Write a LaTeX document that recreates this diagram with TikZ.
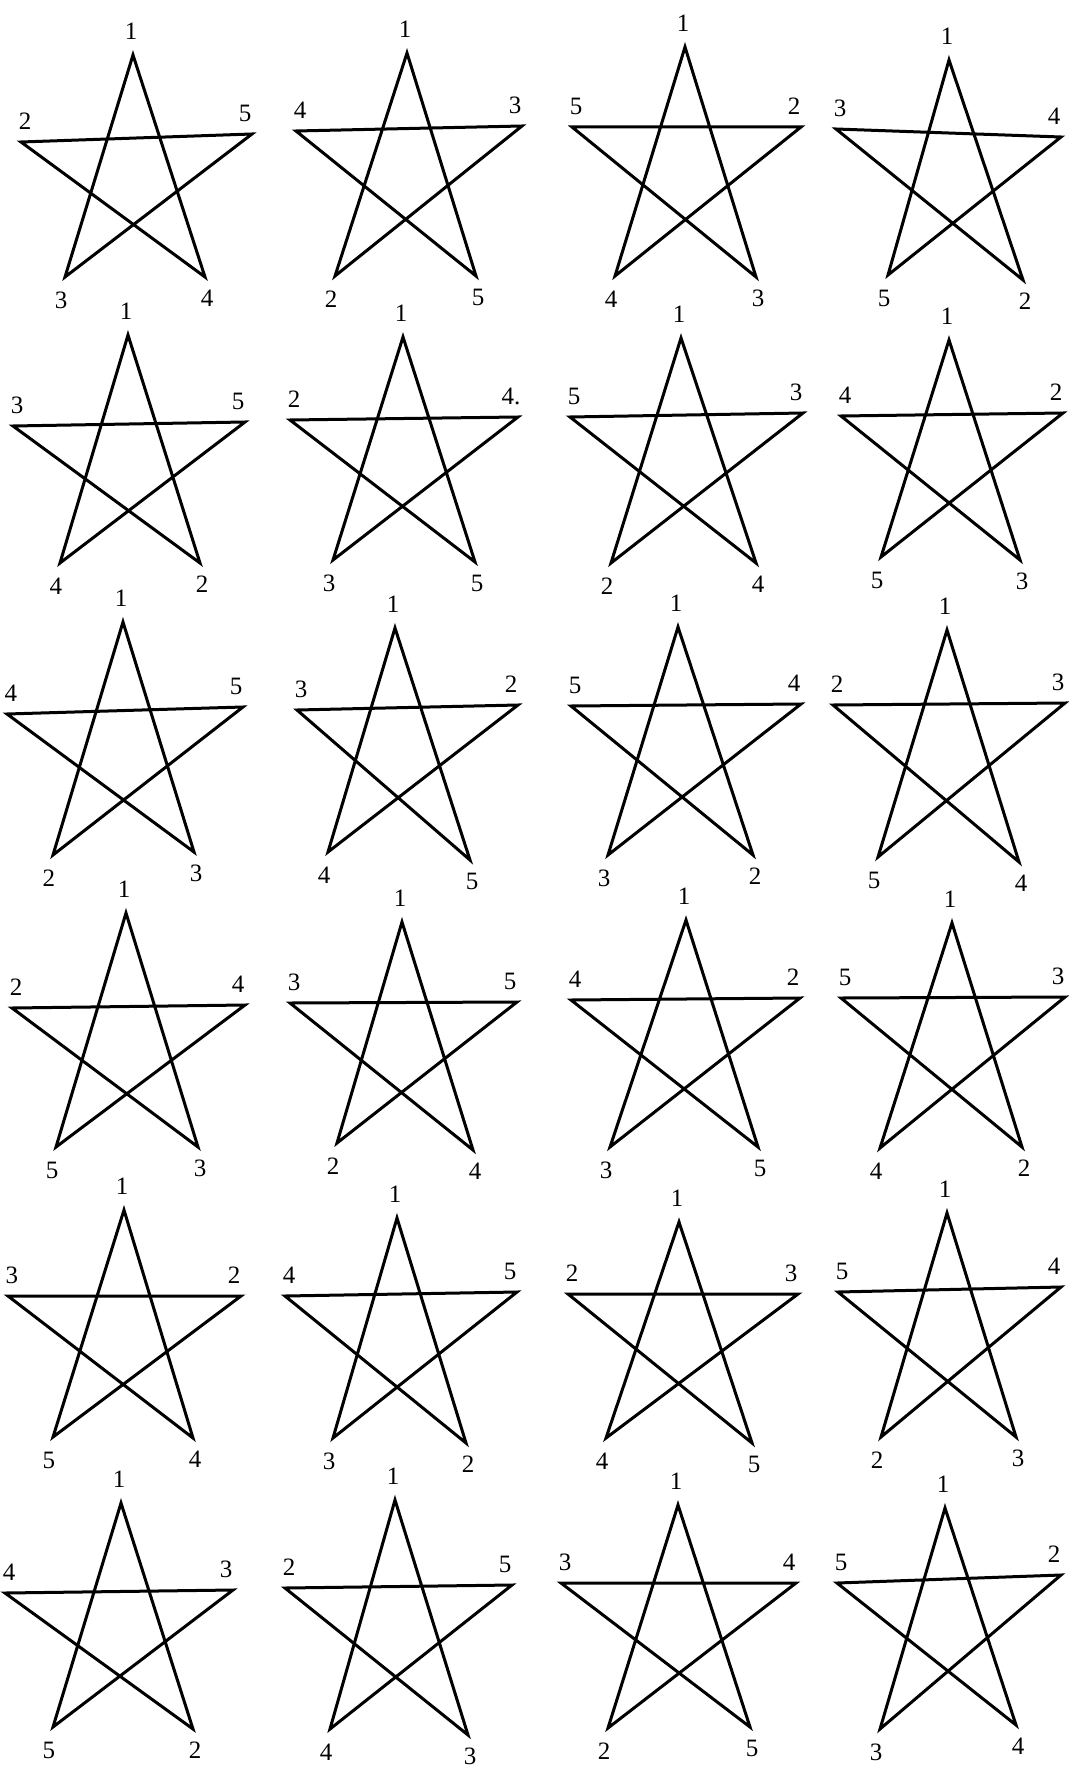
\documentclass[tikz,border=0pt]{standalone}
\usepackage{fontspec}
\setmainfont{Liberation Serif}

\begin{document}
\begin{tikzpicture}[x=0.5pt, y=-0.5pt, line width=1.5pt,
        every node/.style={inner sep=0pt, font=\fontsize{12.5}{14}\selectfont},
        toplab/.style={xshift=-1pt, yshift=12pt},
        leftlab/.style={xshift=2pt, yshift=10.5pt},
        rightlab/.style={xshift=-3.5pt, yshift=10.5pt},
        botleftlab/.style={xshift=-2pt, yshift=-11.5pt},
        botrightlab/.style={xshift=1pt, yshift=-10.5pt}]
                \useasboundingbox (0,0) rectangle (1086,1771);

                % Stars: top, left, right, bottom left, bottom right, then labels
                \foreach \n/\ax/\ay/\bx/\by/\cx/\cy/\dx/\dy/\ex/\ey/\nl/\nr/\nbl/\nbr in {
                    1/133/55/21/142/252/134/65/277/205/277/2/5/3/4,
                    2/407/53/296/131/522/126/335/276/476/276/4/3/2/5,
                    3/685/47/572/127/801/127/615/276/756/277/5/2/4/3,
                    4/949/60/836/129/1061/137/888/275/1023/280/3/4/5/2,
                    5/128/335/13/426/245/422/60/563/200/563/3/5/4/2,
                    6/403/337/290/420/518/417/333/560/475/562/2/4./3/5,
                    7/681/338/570/417/803/413/611/563/756/563/5/3/2/4,
                    8/949/340/841/416/1063/413/881/557/1020/560/4/2/5/3,
                    9/123/622/7/714/243/707/53/855/194/852/4/5/2/3,
                    10/395/628/297/710/518/705/328/852/470/860/3/2/4/5,
                    11/678/627/571/706/801/704/608/855/753/855/5/4/3/2,
                    12/947/630/833/705/1065/703/878/857/1019/862/2/3/5/4,
                    13/126/913/12/1008/245/1005/56/1147/198/1147/2/4/5/3,
                    14/402/922/290/1003/517/1002/337/1143/473/1150/3/5/2/4,
                    15/686/920/571/1000/800/998/610/1147/758/1147/4/2/3/5,
                    16/952/923/841/998/1065/997/880/1148/1022/1147/5/3/4/2,
                    17/124/1210/8/1296/241/1296/53/1437/193/1438/3/2/5/4,
                    18/397/1218/285/1296/517/1292/333/1438/466/1443/4/5/3/2,
                    19/679/1222/568/1294/798/1294/606/1438/752/1443/2/3/4/5,
                    20/947/1213/838/1292/1061/1287/881/1437/1016/1437/5/4/2/3,
                    21/121/1503/5/1593/233/1590/53/1727/193/1729/4/3/5/2,
                    22/395/1500/285/1588/512/1585/330/1729/468/1735/2/5/4/3,
                    23/678/1505/561/1583/796/1583/608/1728/750/1727/3/4/2/5,
                    24/945/1508/837/1583/1061/1575/880/1729/1016/1725/5/2/3/4}{
                    \coordinate (a\n) at (\ax,\ay);
                    \coordinate (b\n) at (\bx,\by);
                    \coordinate (c\n) at (\cx,\cy);
                    \coordinate (d\n) at (\dx,\dy);
                    \coordinate (e\n) at (\ex,\ey);

                    \node[toplab] (la\n) at (a\n) {1};
                    \node[leftlab] (lb\n) at (b\n) {\nl};
                    \node[rightlab] (lc\n) at (c\n) {\nr};
                    \node[botleftlab] (ld\n) at (d\n) {\nbl};
                    \node[botrightlab] (le\n) at (e\n) {\nbr};

                    \draw (a\n) -- (d\n) -- (c\n) -- (b\n) -- (e\n) -- cycle;
                }
            \end{tikzpicture}
\end{document}
